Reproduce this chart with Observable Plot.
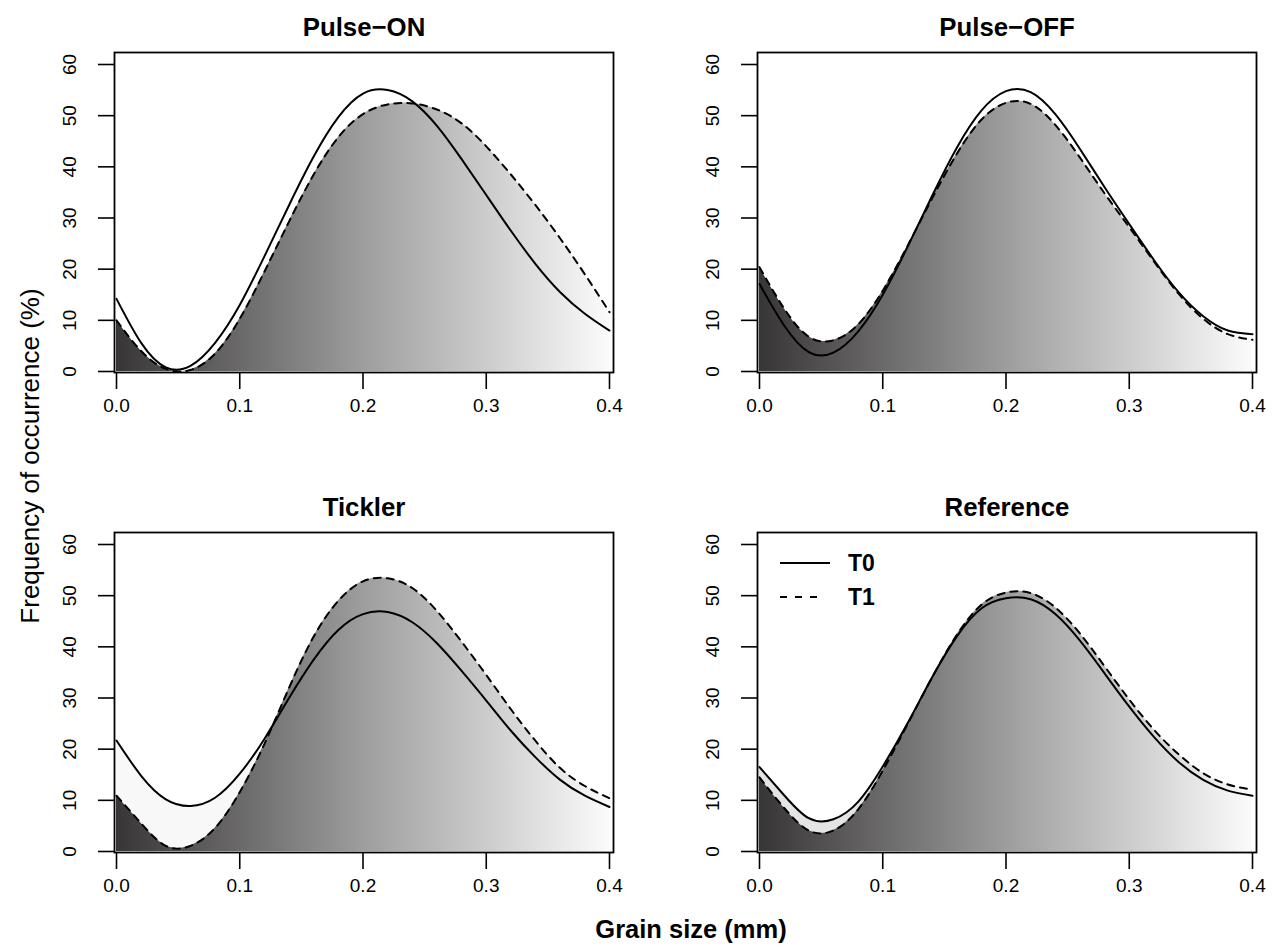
<!DOCTYPE html>
<html>
<head>
<meta charset="utf-8">
<script src="https://cdn.jsdelivr.net/npm/d3@7"></script>
<script src="https://cdn.jsdelivr.net/npm/@observablehq/plot@0.6"></script>
<style>
  body { margin: 0; background: #fff; }
  #chart { position: relative; width: 1282px; height: 948px; background: #fff; overflow: hidden;
           font-family: "Liberation Sans", Arial, Helvetica, sans-serif; color: #000; }
  .panel { position: absolute; width: 639px; height: 480px; }
  .title { position: absolute; font-weight: bold; font-size: 25.8px; line-height: 1; white-space: nowrap;
           transform: translate(-50%, -50%); }
  .ylab { position: absolute; font-size: 26px; line-height: 1; white-space: nowrap;
          transform: translate(-50%, -50%) rotate(-90deg); }
  .xlab { position: absolute; font-weight: bold; font-size: 25.5px; line-height: 1; white-space: nowrap;
          transform: translate(-50%, -50%); }
</style>
</head>
<body>
<div id="chart"></div>
<script>
// ---------------- data ----------------
const grainSize = [0.00, 0.02, 0.04, 0.06, 0.08, 0.10, 0.12, 0.14, 0.16, 0.18, 0.20,
                   0.22, 0.24, 0.26, 0.28, 0.30, 0.32, 0.34, 0.36, 0.38, 0.40];
const yTicks = [0, 10, 20, 30, 40, 50, 60];
const xTicks = [0.0, 0.1, 0.2, 0.3, 0.4];
const panelTitles = ["Pulse\u2212ON", "Pulse\u2212OFF", "Tickler", "Reference"];
const seriesNames = ["T0", "T1"];

const pulseOnT0   = [14.2, 5.6, 0.8, 1.1, 5.6, 13.0, 22.5, 32.5, 42.0, 49.7, 54.3, 55.0, 52.8, 48.0, 41.5, 34.5, 27.5, 21.0, 15.5, 11.3, 8.0];
const pulseOnT1   = [10.0, 4.0, 0.5, 0.3, 3.5, 10.3, 19.5, 29.3, 38.5, 45.8, 50.3, 52.2, 52.4, 51.2, 48.5, 44.0, 38.5, 32.5, 26.0, 19.0, 11.6];
const pulseOffT0  = [17.1, 9.0, 3.8, 3.7, 7.8, 15.0, 24.3, 34.3, 43.7, 51.0, 54.8, 54.6, 50.3, 43.5, 36.0, 28.8, 21.8, 15.5, 10.8, 8.0, 7.3];
const pulseOffT1  = [20.4, 12.3, 6.8, 6.1, 9.2, 15.8, 24.5, 33.8, 42.5, 49.2, 52.5, 52.3, 48.2, 41.8, 34.8, 28.2, 21.5, 15.2, 10.3, 7.3, 6.2];
const ticklerT0   = [21.7, 14.8, 10.2, 8.9, 10.5, 15.2, 22.0, 30.0, 37.5, 43.3, 46.4, 46.8, 44.8, 40.7, 35.3, 29.5, 23.6, 18.4, 14.0, 10.9, 8.7];
const ticklerT1   = [10.9, 5.5, 1.1, 1.1, 4.6, 11.6, 21.0, 32.0, 42.0, 49.0, 52.8, 53.4, 51.5, 47.0, 41.0, 34.5, 27.8, 21.6, 16.3, 12.8, 10.4];
const referenceT0 = [16.5, 11.0, 6.5, 6.3, 9.7, 16.6, 25.0, 34.0, 42.0, 47.5, 49.5, 49.3, 46.4, 41.2, 34.8, 28.3, 22.4, 17.5, 14.0, 11.9, 10.9];
const referenceT1 = [14.5, 8.5, 4.1, 4.1, 8.2, 15.8, 24.8, 34.0, 42.3, 48.2, 50.6, 50.5, 47.7, 42.6, 36.2, 29.7, 23.8, 19.0, 15.3, 13.1, 12.1];

const gapFills = ["#ffffff", "#ffffff", "#f8f8f8", "#e4e4e4"];

// ---------------- layout ----------------
const chart = document.getElementById("chart");
const panelPos = [[0, 0], [643, 0], [0, 480], [643, 480]];
const series = [[pulseOnT0, pulseOnT1], [pulseOffT0, pulseOffT1], [ticklerT0, ticklerT1], [referenceT0, referenceT1]];
const FONT = '"Liberation Sans", Arial, Helvetica, sans-serif';
const CURVE = "natural";

function makePanel(i) {
  const [t0, t1] = series[i];
  const d0 = grainSize.map((g, k) => ({g, v: t0[k]}));
  const d1 = grainSize.map((g, k) => ({g, v: t1[k]}));
  const gid = "grad" + i;
  return Plot.plot({
    width: 639, height: 480,
    marginLeft: 114, marginRight: 26, marginTop: 52, marginBottom: 108,
    x: {domain: [0, 0.4], range: [116, 609]},
    y: {domain: [0, 60], range: [371, 64]},
    style: {fontFamily: FONT, fontSize: "19px", background: "transparent", overflow: "visible", color: "black"},
    marks: [
      () => {
        const defs = d3.create("svg:defs");
        const lg = defs.append("linearGradient").attr("id", gid)
          .attr("x1", "0").attr("x2", "1").attr("y1", "0").attr("y2", "0");
        lg.append("stop").attr("offset", "0%").attr("stop-color", "#383536");
        lg.append("stop").attr("offset", "50%").attr("stop-color", "#9d9d9d");
        lg.append("stop").attr("offset", "100%").attr("stop-color", "#fbfbfb");
        return defs.node();
      },
      Plot.areaY(d0, {x: "g", y: "v", fill: gapFills[i], curve: CURVE, clip: true}),
      Plot.areaY(d1, {x: "g", y: "v", fill: `url(#${gid})`, curve: CURVE, clip: true}),
      Plot.line(d0, {x: "g", y: "v", stroke: "black", strokeWidth: 2, curve: CURVE, clip: true}),
      Plot.line(d1, {x: "g", y: "v", stroke: "black", strokeWidth: 2, strokeDasharray: "7,6", curve: CURVE, clip: true}),
      Plot.frame({stroke: "black", strokeWidth: 1.8}),
      Plot.axisX(xTicks, {tickSize: 17, tickPadding: 9, tickFormat: d3.format(".1f"), label: null,
                          strokeWidth: 1.6, fontSize: 19}),
      Plot.axisY(yTicks, {tickSize: 16, tickFormat: () => "", label: null, strokeWidth: 1.6}),
      Plot.text(yTicks, {y: d => d, text: d => String(d), frameAnchor: "left", dx: -45, rotate: -90,
                         textAnchor: "middle", fontSize: 19})
    ]
  });
}

panelTitles.forEach((t, i) => {
  const div = document.createElement("div");
  div.className = "panel";
  div.style.left = panelPos[i][0] + "px";
  div.style.top = panelPos[i][1] + "px";
  div.appendChild(makePanel(i));
  chart.appendChild(div);

  const title = document.createElement("div");
  title.className = "title";
  title.textContent = t;
  title.style.left = (panelPos[i][0] + 364) + "px";
  title.style.top = (panelPos[i][1] + 28) + "px";
  chart.appendChild(title);
});

const ylab = document.createElement("div");
ylab.className = "ylab";
ylab.textContent = "Frequency of occurrence (%)";
ylab.style.left = "30px";
ylab.style.top = "456px";
chart.appendChild(ylab);

const xlab = document.createElement("div");
xlab.className = "xlab";
xlab.textContent = "Grain size (mm)";
xlab.style.left = "691px";
xlab.style.top = "930px";
chart.appendChild(xlab);

// legend (Reference panel)
const lsvg = d3.create("svg").attr("width", 1282).attr("height", 948)
  .style("position", "absolute").style("left", "0px").style("top", "0px").style("pointer-events", "none");
const legendRows = [{name: seriesNames[0], dash: null, y: 563}, {name: seriesNames[1], dash: "7,8", y: 597}];
legendRows.forEach(r => {
  lsvg.append("line").attr("x1", 780).attr("x2", r.dash ? 824 : 830).attr("y1", r.y).attr("y2", r.y)
    .attr("stroke", "black").attr("stroke-width", 2).attr("stroke-dasharray", r.dash);
  lsvg.append("text").attr("x", 848).attr("y", r.y).attr("dy", "0.35em")
    .attr("font-family", FONT).attr("font-weight", "bold").attr("font-size", 23).text(r.name);
});
chart.appendChild(lsvg.node());
</script>
</body>
</html>
